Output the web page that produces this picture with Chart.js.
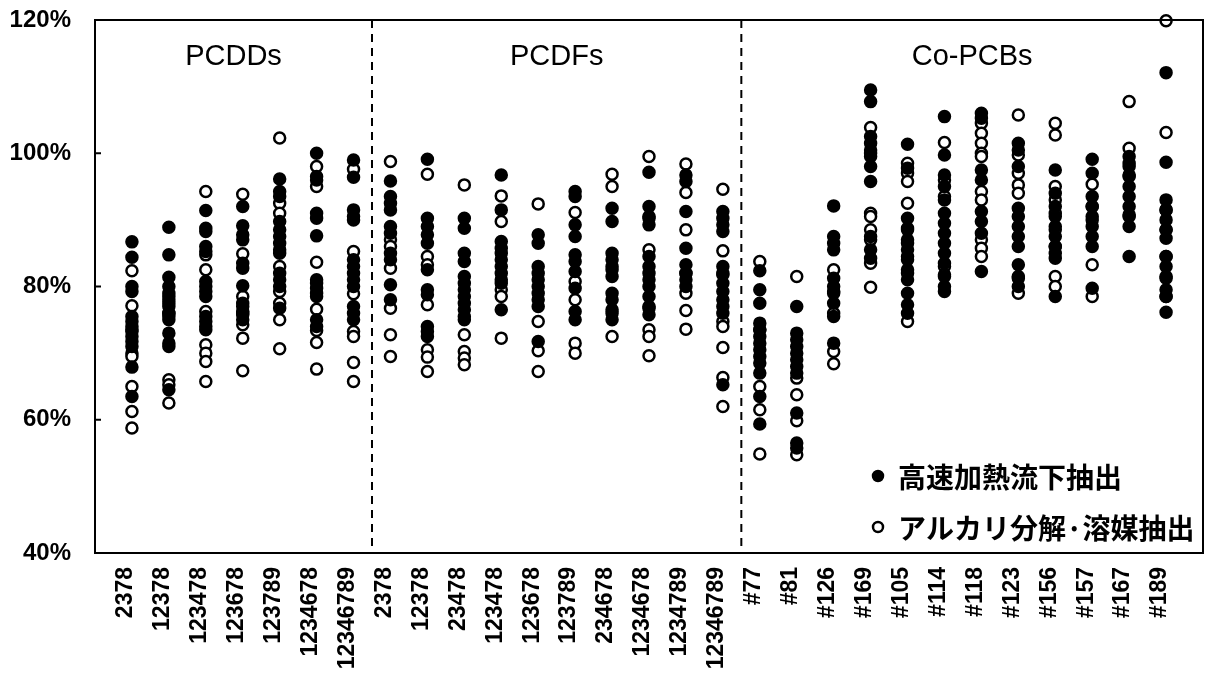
<!DOCTYPE html>
<html>
<head>
<meta charset="utf-8">
<script src="https://cdn.jsdelivr.net/npm/chart.js@4"></script>
<style>
  body { margin: 0; background: #fff; }
  #wrap { width: 1213px; height: 673px; }
</style>
</head>
<body>
<div id="wrap"><canvas id="grafico"></canvas></div>
<script>
// etiquetas del eje x
const tickLabels = [
  "2378", "12378", "123478", "123678", "123789", "1234678", "12346789",
  "2378", "12378", "23478", "123478", "123678", "123789", "234678", "1234678", "1234789", "12346789",
  "#77", "#81", "#126", "#169", "#105", "#114", "#118", "#123", "#156", "#157", "#167", "#189",
];

// grupos y sus limites (en unidades de categoria)
const groupNames = ["PCDDs", "PCDFs", "Co-PCBs"];
const groupBounds = [-1, 6.5, 16.5, 29];

const legendNames = ["高速加熱流下抽出", "アルカリ分解·溶媒抽出"];

// 高速加熱流下抽出 (puntos negros), % por categoria
const fastHeat = [
  [86.7, 84.4, 80.0, 79.25, 75.5, 74.75, 74.0, 73.25, 72.5, 71.75, 71.0, 67.9, 63.5],
  [88.9, 84.75, 81.4, 80, 79, 78, 77.5, 77, 76, 75.5, 75, 73.0, 71.5, 71, 64.5],
  [91.4, 88.75, 88.25, 86, 85.25, 80.75, 80, 79.25, 78.5, 75.5, 74.75, 74, 73.5],
  [92.0, 89.1, 87.75, 87.0, 83.5, 82.75, 80.1, 77.5, 77, 76.25, 75.75, 75],
  [96.15, 94.25, 93.5, 89.75, 88.5, 87.5, 86.5, 85.5, 85, 82, 81, 80, 76.75],
  [100, 96.5, 96, 91, 90.25, 87.6, 81, 80.5, 79.75, 79, 78.5, 75, 74],
  [99, 96.4, 91.5, 90.5, 90, 84, 83, 82, 81, 80, 77, 76, 75],
  [95.85, 93.5, 92.5, 91.5, 89, 88, 85, 84, 80.25, 78],
  [99.1, 90.25, 89, 87.75, 86.5, 82.5, 79.5, 78.75, 74, 73.25, 72.5],
  [90.25, 88.75, 85, 83.75, 81.5, 80.5, 79.5, 78.5, 77.5, 76.5, 75.5, 75],
  [96.75, 91.5, 86.75, 85.75, 85, 84, 83, 82, 81, 80.5, 76.5],
  [87.75, 86.5, 83, 82, 81, 80, 79, 78, 77, 71.75],
  [94.25, 93.5, 89.25, 87.5, 84.75, 83.75, 82.25, 79.75, 76.25, 75],
  [91.75, 89.75, 85, 84, 83, 81.5, 79, 78, 76.5, 75],
  [97.15, 92, 90.5, 89.25, 84.5, 83, 82, 81, 80, 78.5, 77, 75.75],
  [96.75, 95.75, 91.25, 85.75, 83.25, 82, 81, 80],
  [91.25, 90.25, 89.25, 88.25, 83, 82, 80.5, 79.25, 78, 77, 76, 65.25],
  [82.35, 79.5, 77.5, 74.5, 73.5, 72.5, 71.5, 70.5, 69.5, 68.5, 67, 63.5, 59.35],
  [77, 73, 72, 71, 70, 69, 68, 67, 61, 56.5, 55.75],
  [92.1, 87.5, 86.5, 85.5, 81.25, 80, 79, 77.5, 75.5, 71.5],
  [109.5, 107.75, 102.5, 101.5, 100.5, 99.5, 98, 95.75, 87.5, 85.5, 84.25],
  [101.35, 97.75, 90.25, 88.75, 87, 85.5, 84, 82.5, 81, 79, 77.25, 76],
  [105.5, 99.75, 96.75, 95, 93, 91, 89.5, 88, 86.5, 85, 83.5, 81.5, 80, 79.25],
  [106, 105.25, 97.5, 96, 91.25, 89.75, 88, 82.25],
  [101.5, 100.5, 98, 91.75, 90.5, 89, 87.5, 86, 83.25, 81.5, 80],
  [97.5, 94, 92, 90.5, 89, 87.5, 86, 85, 84.25, 78.5],
  [99.1, 97, 93.5, 92, 90.5, 89, 87.5, 86, 79.75],
  [99.5, 98, 96.5, 95, 93.5, 92, 90.5, 89, 84.5],
  [112.1, 98.65, 93, 91.5, 90, 88.5, 87.25, 84.5, 83, 81.5, 79.5, 78.5, 76.15],
];

// アルカリ分解・溶媒抽出 (puntos blancos)
const alkali = [
  [82.35, 77.1, 73.5, 70.0, 69.5, 65.0, 61.25, 58.75],
  [78.5, 76, 66.0, 65.25, 62.5],
  [94.25, 84.75, 82.5, 76.25, 71.25, 70.0, 68.75, 65.75],
  [93.85, 84.9, 78.5, 76, 74.25, 72.25, 67.35],
  [102.3, 92.5, 91, 83, 79.25, 77.5, 75, 70.65],
  [98, 95, 83.65, 76.6, 73.4, 71.6, 67.6],
  [97.6, 85.25, 78.9, 73.25, 72.5, 68.6, 65.75],
  [98.75, 87, 86, 82.75, 76.75, 72.75, 69.5],
  [96.85, 84.5, 83.25, 77.25, 70.5, 69.4, 67.25],
  [95.25, 72.75, 70.25, 69.25, 68.25],
  [93.6, 89.75, 79.5, 78.5, 72.25],
  [92.4, 74.75, 70.35, 67.25],
  [91.1, 80.75, 78, 71.5, 70],
  [96.85, 95, 82.5, 76, 72.5],
  [99.5, 90.25, 85.5, 76.75, 73.5, 72.5, 69.6],
  [98.4, 94.1, 88.5, 82, 79, 76.4, 73.6],
  [94.6, 85.35, 81.75, 74.75, 74, 70.85, 66.35, 62],
  [83.75, 73.5, 65, 61.5, 54.85],
  [81.5, 66.25, 63.75, 59.85, 54.75],
  [82.5, 79.25, 76, 70.25, 68.4],
  [103.85, 100, 91, 90.5, 88.5, 87, 83.5, 79.9],
  [98.5, 97, 95.75, 92.5, 88.5, 86.5, 84.5, 82, 74.75],
  [101.6, 96, 93.5, 83, 81.75],
  [104.5, 103, 101.5, 100, 99.5, 94.25, 93, 87, 85.75, 84.5],
  [105.75, 99.75, 97, 95.25, 94, 81.25, 79],
  [104.5, 102.75, 95, 93, 91, 88.5, 86, 81.5, 80],
  [95.35, 92, 90, 83.25, 78.5],
  [107.75, 100.75, 98.5, 96.75, 90.75],
  [119.9, 103.1, 91.5, 88.5, 84.5, 81.25, 78.5],
];

const FONT = "'Liberation Sans', Arial, sans-serif";
const CJK = "'Noto Sans CJK JP', sans-serif";

const toPoints = (series) =>
  series.flatMap((vals, i) => vals.map((v) => ({ x: i, y: v })));

// sin relleno extra alrededor de las escalas
const noPad = (s) => {
  s.paddingLeft = 0;
  s.paddingRight = 0;
  s.paddingTop = 0;
  s.paddingBottom = 0;
};

// decoraciones: marco, lineas punteadas, titulos de grupo, leyenda
const decor = {
  id: "decor",
  afterDraw(chart) {
    const { ctx, chartArea: a, scales } = chart;
    const xs = scales.x;
    const ys = scales.y;
    ctx.save();
    ctx.strokeStyle = "#000";
    ctx.lineWidth = 2;
    ctx.strokeRect(a.left, a.top, a.right - a.left, a.bottom - a.top);

    // marcas del eje y hacia adentro
    [40, 60, 80, 100, 120].forEach((v) => {
      const y = ys.getPixelForValue(v);
      ctx.beginPath();
      ctx.moveTo(a.left, y);
      ctx.lineTo(a.left + 6, y);
      ctx.stroke();
    });

    ctx.setLineDash([8, 6]);
    [groupBounds[1], groupBounds[2]].forEach((b) => {
      const x = xs.getPixelForValue(b);
      ctx.beginPath();
      ctx.moveTo(x, a.top);
      ctx.lineTo(x, a.bottom);
      ctx.stroke();
    });
    ctx.setLineDash([]);

    ctx.fillStyle = "#000";
    ctx.font = "29px " + FONT;
    ctx.textAlign = "center";
    ctx.textBaseline = "middle";
    groupNames.forEach((name, i) => {
      const x0 = xs.getPixelForValue(groupBounds[i]);
      const x1 = xs.getPixelForValue(groupBounds[i + 1]);
      ctx.fillText(name, (x0 + x1) / 2, 57);
    });

    // leyenda
    const lx = 878;
    const rows = [476, 527];
    ctx.font = "bold 28px " + CJK;
    ctx.textAlign = "left";
    rows.forEach((y, i) => {
      ctx.beginPath();
      ctx.arc(lx, y, 5, 0, Math.PI * 2);
      ctx.fillStyle = i === 0 ? "#000" : "#fff";
      ctx.fill();
      ctx.lineWidth = 2.5;
      ctx.stroke();
      ctx.fillStyle = "#000";
      ctx.fillText(legendNames[i], 898, y + 1);
    });
    ctx.restore();
  },
};

const canvas = document.getElementById("grafico");

new Chart(canvas, {
  type: "scatter",
  data: {
    datasets: [
      {
        label: legendNames[0],
        data: toPoints(fastHeat),
        backgroundColor: "#000",
        borderColor: "#000",
        borderWidth: 2.5,
        pointRadius: 5.5,
        clip: false,
      },
      {
        label: legendNames[1],
        data: toPoints(alkali),
        backgroundColor: "#fff",
        borderColor: "#000",
        borderWidth: 2.5,
        pointRadius: 5.5,
        clip: false,
      },
    ],
  },
  options: {
    responsive: true,
    maintainAspectRatio: false,
    animation: false,
    layout: { padding: { top: 20, right: 10, left: 0, bottom: 0 } },
    plugins: {
      legend: { display: false },
      tooltip: { enabled: false },
    },
    scales: {
      x: {
        type: "linear",
        min: -1,
        max: 29,
        afterFit: (s) => { s.height = 120; noPad(s); },
        grid: { display: false, drawTicks: false },
        border: { display: false },
        ticks: {
          stepSize: 1,
          autoSkip: false,
          maxRotation: 90,
          minRotation: 90,
          padding: 14,
          labelOffset: -6,
          color: "#000",
          font: { family: FONT, size: 23, weight: "bold" },
          callback: (v) => tickLabels[v] ?? "",
        },
      },
      y: {
        min: 40,
        max: 120,
        afterFit: (s) => { s.width = 95; noPad(s); },
        grid: { display: false, drawTicks: false },
        border: { display: false },
        ticks: {
          stepSize: 20,
          padding: 24,
          color: "#000",
          font: { family: FONT, size: 24, weight: "bold" },
          callback: (v) => v + "%",
        },
      },
    },
  },
  plugins: [decor],
});
</script>
</body>
</html>
